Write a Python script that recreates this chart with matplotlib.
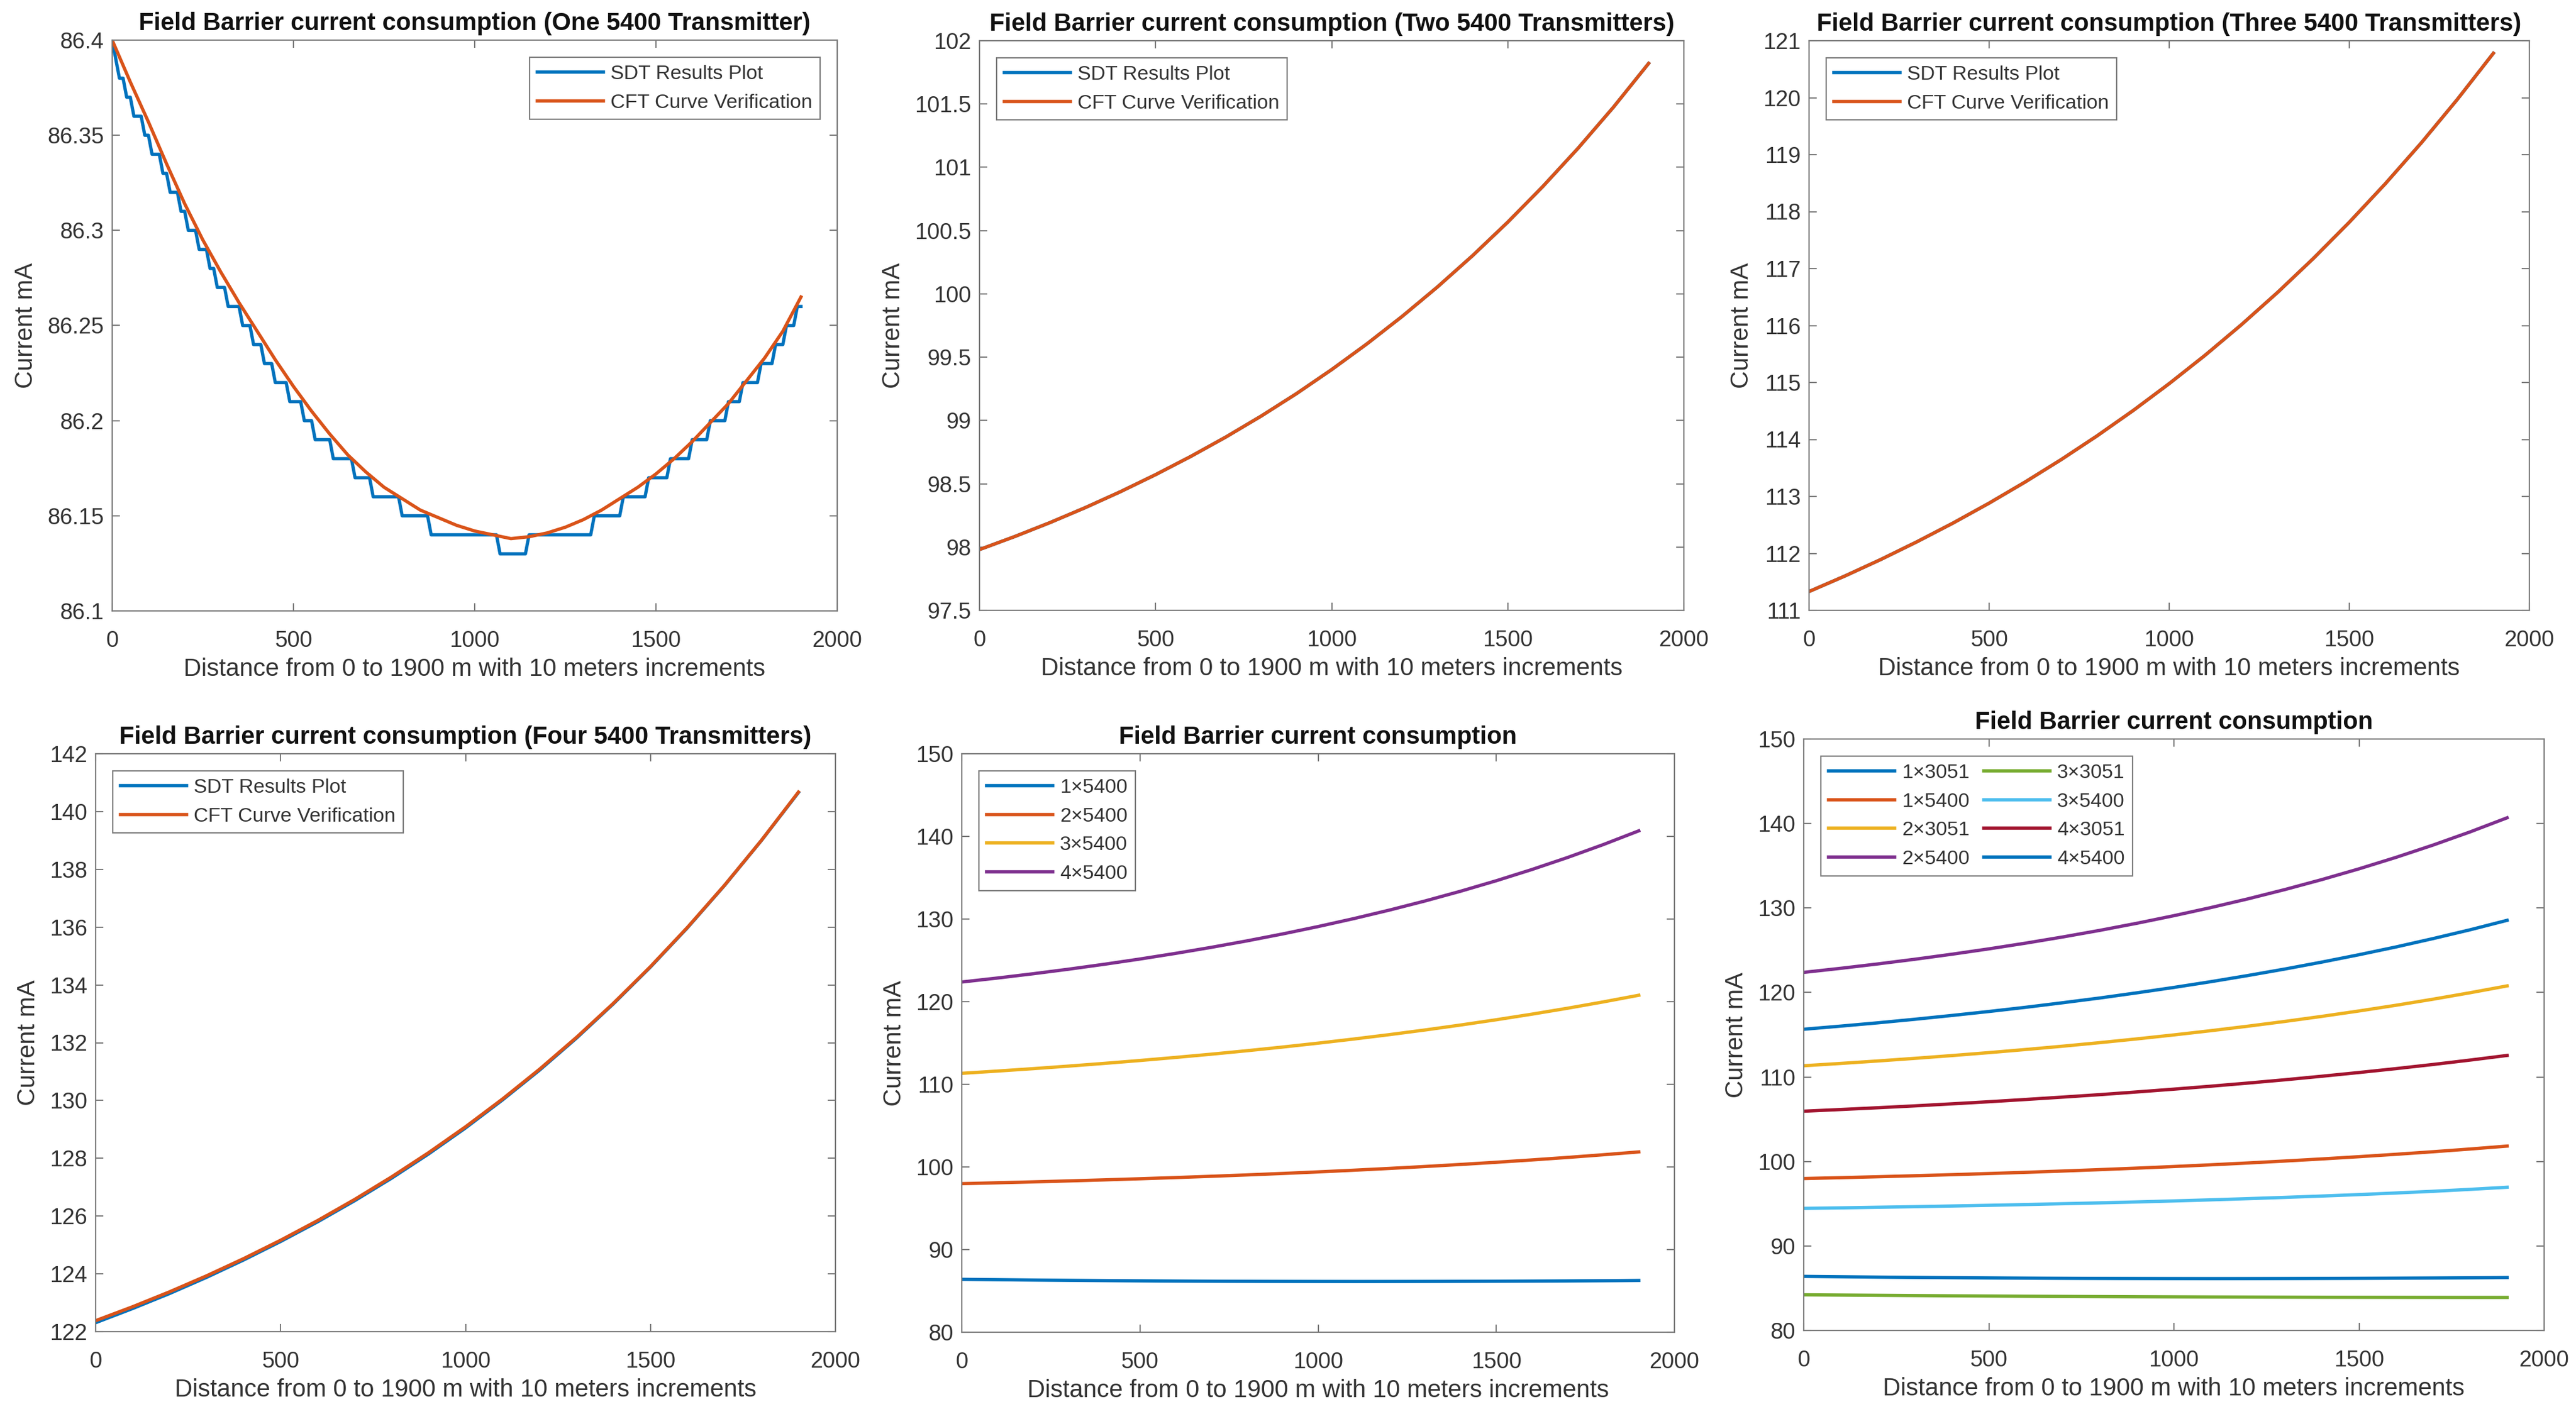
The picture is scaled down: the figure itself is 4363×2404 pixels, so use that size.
import numpy as np
import matplotlib
matplotlib.use("Agg")
import matplotlib.pyplot as plt
from matplotlib.ticker import FuncFormatter, MultipleLocator

plt.rcParams['font.family'] = ['Liberation Sans', 'DejaVu Sans']

W, H = 4363, 2404

# x grid of the SDT run: 0 to 1900 m, 10 m steps
DIST_FINE = np.arange(0, 1901, 10)
DIST_50 = list(range(0, 1901, 50))
DIST_100 = list(range(0, 1901, 100))

# one 5400: SDT result is a staircase (start distance of each 0.01 mA level)
SDT1_STEP_START = [0, 10, 20, 40, 60, 90, 110, 140, 160, 190, 210, 240, 270, 290, 320,
                   360, 390, 420, 450, 490, 530, 560, 610, 670, 720, 800, 880, 1070,
                   1150, 1330, 1410, 1480, 1540, 1600, 1650, 1700, 1740, 1790, 1830,
                   1860, 1890]
SDT1_STEP_LEVEL = [86.40, 86.39, 86.38, 86.37, 86.36, 86.35, 86.34, 86.33, 86.32, 86.31,
                   86.30, 86.29, 86.28, 86.27, 86.26, 86.25, 86.24, 86.23, 86.22, 86.21,
                   86.20, 86.19, 86.18, 86.17, 86.16, 86.15, 86.14, 86.13, 86.14, 86.15,
                   86.16, 86.17, 86.18, 86.19, 86.20, 86.21, 86.22, 86.23, 86.24, 86.25,
                   86.26]
# one 5400: fitted curve, every 50 m
CFT1 = [86.400, 86.378, 86.357, 86.335, 86.314, 86.295, 86.278, 86.262, 86.247, 86.232,
        86.218, 86.205, 86.193, 86.182, 86.173, 86.165, 86.159, 86.153, 86.149, 86.145,
        86.142, 86.140, 86.138, 86.139, 86.141, 86.144, 86.148, 86.153, 86.159, 86.165,
        86.172, 86.180, 86.189, 86.199, 86.209, 86.221, 86.233, 86.247, 86.265]

# the other curves, every 100 m
CFT2 = [97.980, 98.083, 98.193, 98.311, 98.437, 98.572, 98.716, 98.870, 99.035, 99.212,
        99.402, 99.605, 99.822, 100.054, 100.302, 100.567, 100.850, 101.152, 101.475, 101.821]
CFT3 = [111.330, 111.604, 111.895, 112.205, 112.533, 112.882, 113.253, 113.646, 114.064,
        114.508, 114.980, 115.480, 116.012, 116.576, 117.176, 117.813, 118.489, 119.207,
        119.970, 120.780]
CFT4 = [122.380, 122.862, 123.379, 123.933, 124.527, 125.163, 125.844, 126.574, 127.355,
        128.193, 129.090, 130.052, 131.082, 132.186, 133.368, 134.635, 135.993, 137.447,
        139.005, 140.675]
SDT4 = [122.31, 122.80, 123.32, 123.88, 124.48, 125.12, 125.80, 126.53, 127.31, 128.15,
        129.05, 130.02, 131.05, 132.16, 133.35, 134.62, 135.98, 137.44, 139.00, 140.66]

X3051_1 = [84.22, 84.19, 84.16, 84.13, 84.10, 84.075, 84.05, 84.03, 84.01, 83.99,
           83.975, 83.96, 83.95, 83.94, 83.93, 83.925, 83.92, 83.915, 83.91, 83.91]
X5400_3B = [94.45, 94.51, 94.58, 94.65, 94.73, 94.81, 94.90, 95.00, 95.10, 95.21,
            95.33, 95.46, 95.60, 95.75, 95.91, 96.08, 96.27, 96.47, 96.70, 96.95]
X3051_4 = [105.95, 106.15, 106.36, 106.58, 106.82, 107.07, 107.34, 107.62, 107.91, 108.23,
           108.56, 108.91, 109.28, 109.67, 110.09, 110.53, 110.99, 111.48, 112.00, 112.55]
X5400_4B = [115.65, 116.02, 116.41, 116.83, 117.28, 117.75, 118.25, 118.79, 119.35, 119.96,
            120.60, 121.28, 122.01, 122.78, 123.60, 124.47, 125.39, 126.38, 127.42, 128.54]

BLUE, ORANGE, YELLOW, PURPLE = '#0072BD', '#D95319', '#EDB120', '#7E2F8E'
GREEN, CYAN, DARKRED = '#77AC30', '#4DBEEE', '#A2142F'

XLABEL = 'Distance from 0 to 1900 m with 10 meters increments'
YLABEL = 'Current mA'

# axes boxes in pixels: left, top, right, bottom
BOXES = [(190, 68, 1418, 1035), (1659, 69, 2852, 1034), (3064, 69, 4284, 1034),
         (162, 1277, 1415, 2256), (1629, 1277, 2836, 2257), (3055, 1252, 4309, 2254)]

fig = plt.figure(figsize=(W / 100, H / 100), dpi=100)
LW = 4.0
AX_C = '#7a7a7a'
TXT_C = '#333333'


def make_ax(box, ylim, ystep, title):
    l, t, r, b = box
    ax = fig.add_axes([l / W, 1 - b / H, (r - l) / W, (b - t) / H])
    ax.set_xlim(0, 2000)
    ax.set_ylim(*ylim)
    ax.xaxis.set_major_locator(MultipleLocator(500))
    ax.yaxis.set_major_locator(MultipleLocator(ystep))
    ax.yaxis.set_major_formatter(FuncFormatter(lambda v, p: '%g' % round(v, 4)))
    ax.tick_params(direction='in', length=9.5, width=1.5, top=True, right=True,
                   labelsize=27.5, colors=TXT_C, color=AX_C)
    ax.tick_params(axis='y', pad=10)
    ax.tick_params(axis='x', pad=24)
    for s in ax.spines.values():
        s.set_color(AX_C)
        s.set_linewidth(1.6)
    ax.set_title(title, fontsize=30, fontweight='bold', color='#111111', pad=12)
    ax.set_xlabel(XLABEL, fontsize=30, color=TXT_C, labelpad=7)
    ax.set_ylabel(YLABEL, fontsize=30, color=TXT_C, labelpad=12)
    return ax


def legend(ax, loc, ncol=1):
    lg = ax.legend(loc=loc, ncol=ncol, fontsize=24.5, frameon=True, fancybox=False,
                   framealpha=1, edgecolor=AX_C, handlelength=3.3, handletextpad=0.35,
                   labelspacing=0.52, borderaxespad=0.85, borderpad=0.38,
                   columnspacing=0.7)
    lg.get_frame().set_linewidth(1.6)
    for t in lg.get_texts():
        t.set_color(TXT_C)


sdt1 = np.array(SDT1_STEP_LEVEL)[np.searchsorted(SDT1_STEP_START, DIST_FINE, side='right') - 1]

ax = make_ax(BOXES[0], (86.1, 86.4), 0.05,
             'Field Barrier current consumption (One 5400 Transmitter)')
ax.plot(DIST_FINE, sdt1, color=BLUE, lw=LW, label='SDT Results Plot')
ax.plot(DIST_50, CFT1, color=ORANGE, lw=LW, label='CFT Curve Verification')
legend(ax, 'upper right')

ax = make_ax(BOXES[1], (97.5, 102), 0.5,
             'Field Barrier current consumption (Two 5400 Transmitters)')
ax.plot(DIST_100, CFT2, color=BLUE, lw=LW, label='SDT Results Plot')
ax.plot(DIST_100, CFT2, color=ORANGE, lw=LW, label='CFT Curve Verification')
legend(ax, 'upper left')

ax = make_ax(BOXES[2], (111, 121), 1,
             'Field Barrier current consumption (Three 5400 Transmitters)')
ax.plot(DIST_100, CFT3, color=BLUE, lw=LW, label='SDT Results Plot')
ax.plot(DIST_100, CFT3, color=ORANGE, lw=LW, label='CFT Curve Verification')
legend(ax, 'upper left')

ax = make_ax(BOXES[3], (122, 142), 2,
             'Field Barrier current consumption (Four 5400 Transmitters)')
ax.plot(DIST_100, SDT4, color=BLUE, lw=LW, label='SDT Results Plot')
ax.plot(DIST_100, CFT4, color=ORANGE, lw=LW, label='CFT Curve Verification')
legend(ax, 'upper left')

ax = make_ax(BOXES[4], (80, 150), 10, 'Field Barrier current consumption')
ax.plot(DIST_50, CFT1, color=BLUE, lw=LW, label='1×5400')
ax.plot(DIST_100, CFT2, color=ORANGE, lw=LW, label='2×5400')
ax.plot(DIST_100, CFT3, color=YELLOW, lw=LW, label='3×5400')
ax.plot(DIST_100, CFT4, color=PURPLE, lw=LW, label='4×5400')
legend(ax, 'upper left')

ax = make_ax(BOXES[5], (80, 150), 10, 'Field Barrier current consumption')
ax.plot(DIST_50, CFT1, color=BLUE, lw=LW, label='1×3051')
ax.plot(DIST_100, CFT2, color=ORANGE, lw=LW, label='1×5400')
ax.plot(DIST_100, CFT3, color=YELLOW, lw=LW, label='2×3051')
ax.plot(DIST_100, CFT4, color=PURPLE, lw=LW, label='2×5400')
ax.plot(DIST_100, X3051_1, color=GREEN, lw=LW, label='3×3051')
ax.plot(DIST_100, X5400_3B, color=CYAN, lw=LW, label='3×5400')
ax.plot(DIST_100, X3051_4, color=DARKRED, lw=LW, label='4×3051')
ax.plot(DIST_100, X5400_4B, color=BLUE, lw=LW, label='4×5400')
legend(ax, 'upper left', ncol=2)

fig.savefig('out.png', dpi=100, facecolor='white')
